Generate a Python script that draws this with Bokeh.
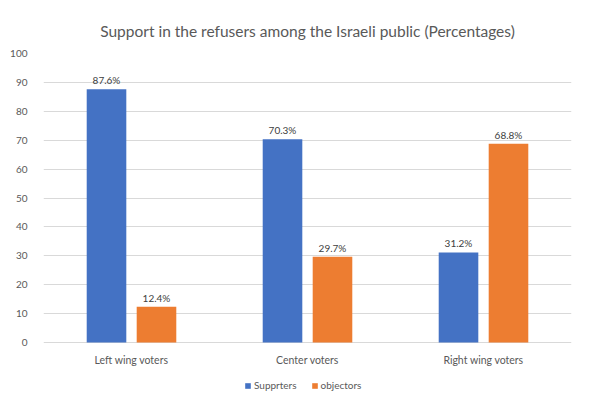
from bokeh.plotting import figure
from bokeh.models import ColumnDataSource, FactorRange, LabelSet, Legend, LegendItem, Title
from bokeh.core.properties import value
from bokeh.transform import dodge
from bokeh.embed import file_html
from bokeh.resources import INLINE

categories = ["Left wing voters", "Center voters", "Right wing voters"]
supporters = [87.6, 70.3, 31.2]
objectors = [12.4, 29.7, 68.8]
series_names = ["Supprters", "objectors"]
y_ticks = list(range(0, 101, 10))

BLUE = "#4472C4"
ORANGE = "#ED7D31"
TEXT = "#595959"
FONT = "Lato"

src = ColumnDataSource(dict(
    cat=categories,
    zero=[0] * len(categories),
    sup=supporters,
    obj=objectors,
    sup_lbl=[f"{v:.1f}%" for v in supporters],
    obj_lbl=[f"{v:.1f}%" for v in objectors],
))

# frame extends below zero so the category labels and legend can live inside it
p = figure(width=600, height=397, x_range=FactorRange(*categories, range_padding=0),
           y_range=(-19.0, 100), output_backend="svg", toolbar_location=None,
           min_border_left=43, min_border_right=29, min_border_top=53, min_border_bottom=0)
p.outline_line_color = None
p.background_fill_color = "white"
p.border_fill_color = "white"

p.title = Title(text="Support in the refusers among the Israeli public (Percentages)",
                align="center", text_font=FONT, text_font_size="15.5px",
                text_font_style="normal", text_color=TEXT, standoff=28)

off = 0.142
w = 0.225
r1 = p.vbar(x=dodge("cat", -off, range=p.x_range), top="sup", width=w, source=src,
            fill_color=BLUE, line_color=None)
r2 = p.vbar(x=dodge("cat", off, range=p.x_range), top="obj", width=w, source=src,
            fill_color=ORANGE, line_color=None)

for col, lbl, o in (("sup", "sup_lbl", -off), ("obj", "obj_lbl", off)):
    p.add_layout(LabelSet(x=dodge("cat", o, range=p.x_range), y=col, text=lbl, source=src,
                          text_align="center", text_baseline="bottom", y_offset=3,
                          text_font=value(FONT), text_font_size=value("10px"),
                          text_color="#404040"))

# category labels
p.add_layout(LabelSet(x="cat", y="zero", text="cat", source=src,
                      text_align="center", text_baseline="middle", y_offset=-17,
                      text_font=value(FONT), text_font_size=value("10.5px"),
                      text_color=TEXT))

p.yaxis.ticker = y_ticks
p.yaxis.axis_line_color = None
p.yaxis.major_tick_line_color = None
p.yaxis.minor_tick_line_color = None
p.yaxis.major_label_text_font = FONT
p.yaxis.major_label_text_font_size = "10px"
p.yaxis.major_label_text_color = TEXT
p.yaxis.major_label_standoff = 10

p.xaxis.visible = False
p.xgrid.grid_line_color = None
p.ygrid.grid_line_color = "#d9d9d9"
p.ygrid.ticker = y_ticks

legend = Legend(items=[LegendItem(label=series_names[0], renderers=[r1]),
                       LegendItem(label=series_names[1], renderers=[r2])],
                orientation="horizontal", location=(201, 6),
                label_text_font=FONT, label_text_font_size="10px", label_text_color=TEXT,
                glyph_width=7, glyph_height=7, label_standoff=3, spacing=14,
                padding=0, margin=0, border_line_color=None, background_fill_alpha=0,
                label_height=12)
p.add_layout(legend, "center")

open("out.html", "w").write(file_html(p, INLINE))
